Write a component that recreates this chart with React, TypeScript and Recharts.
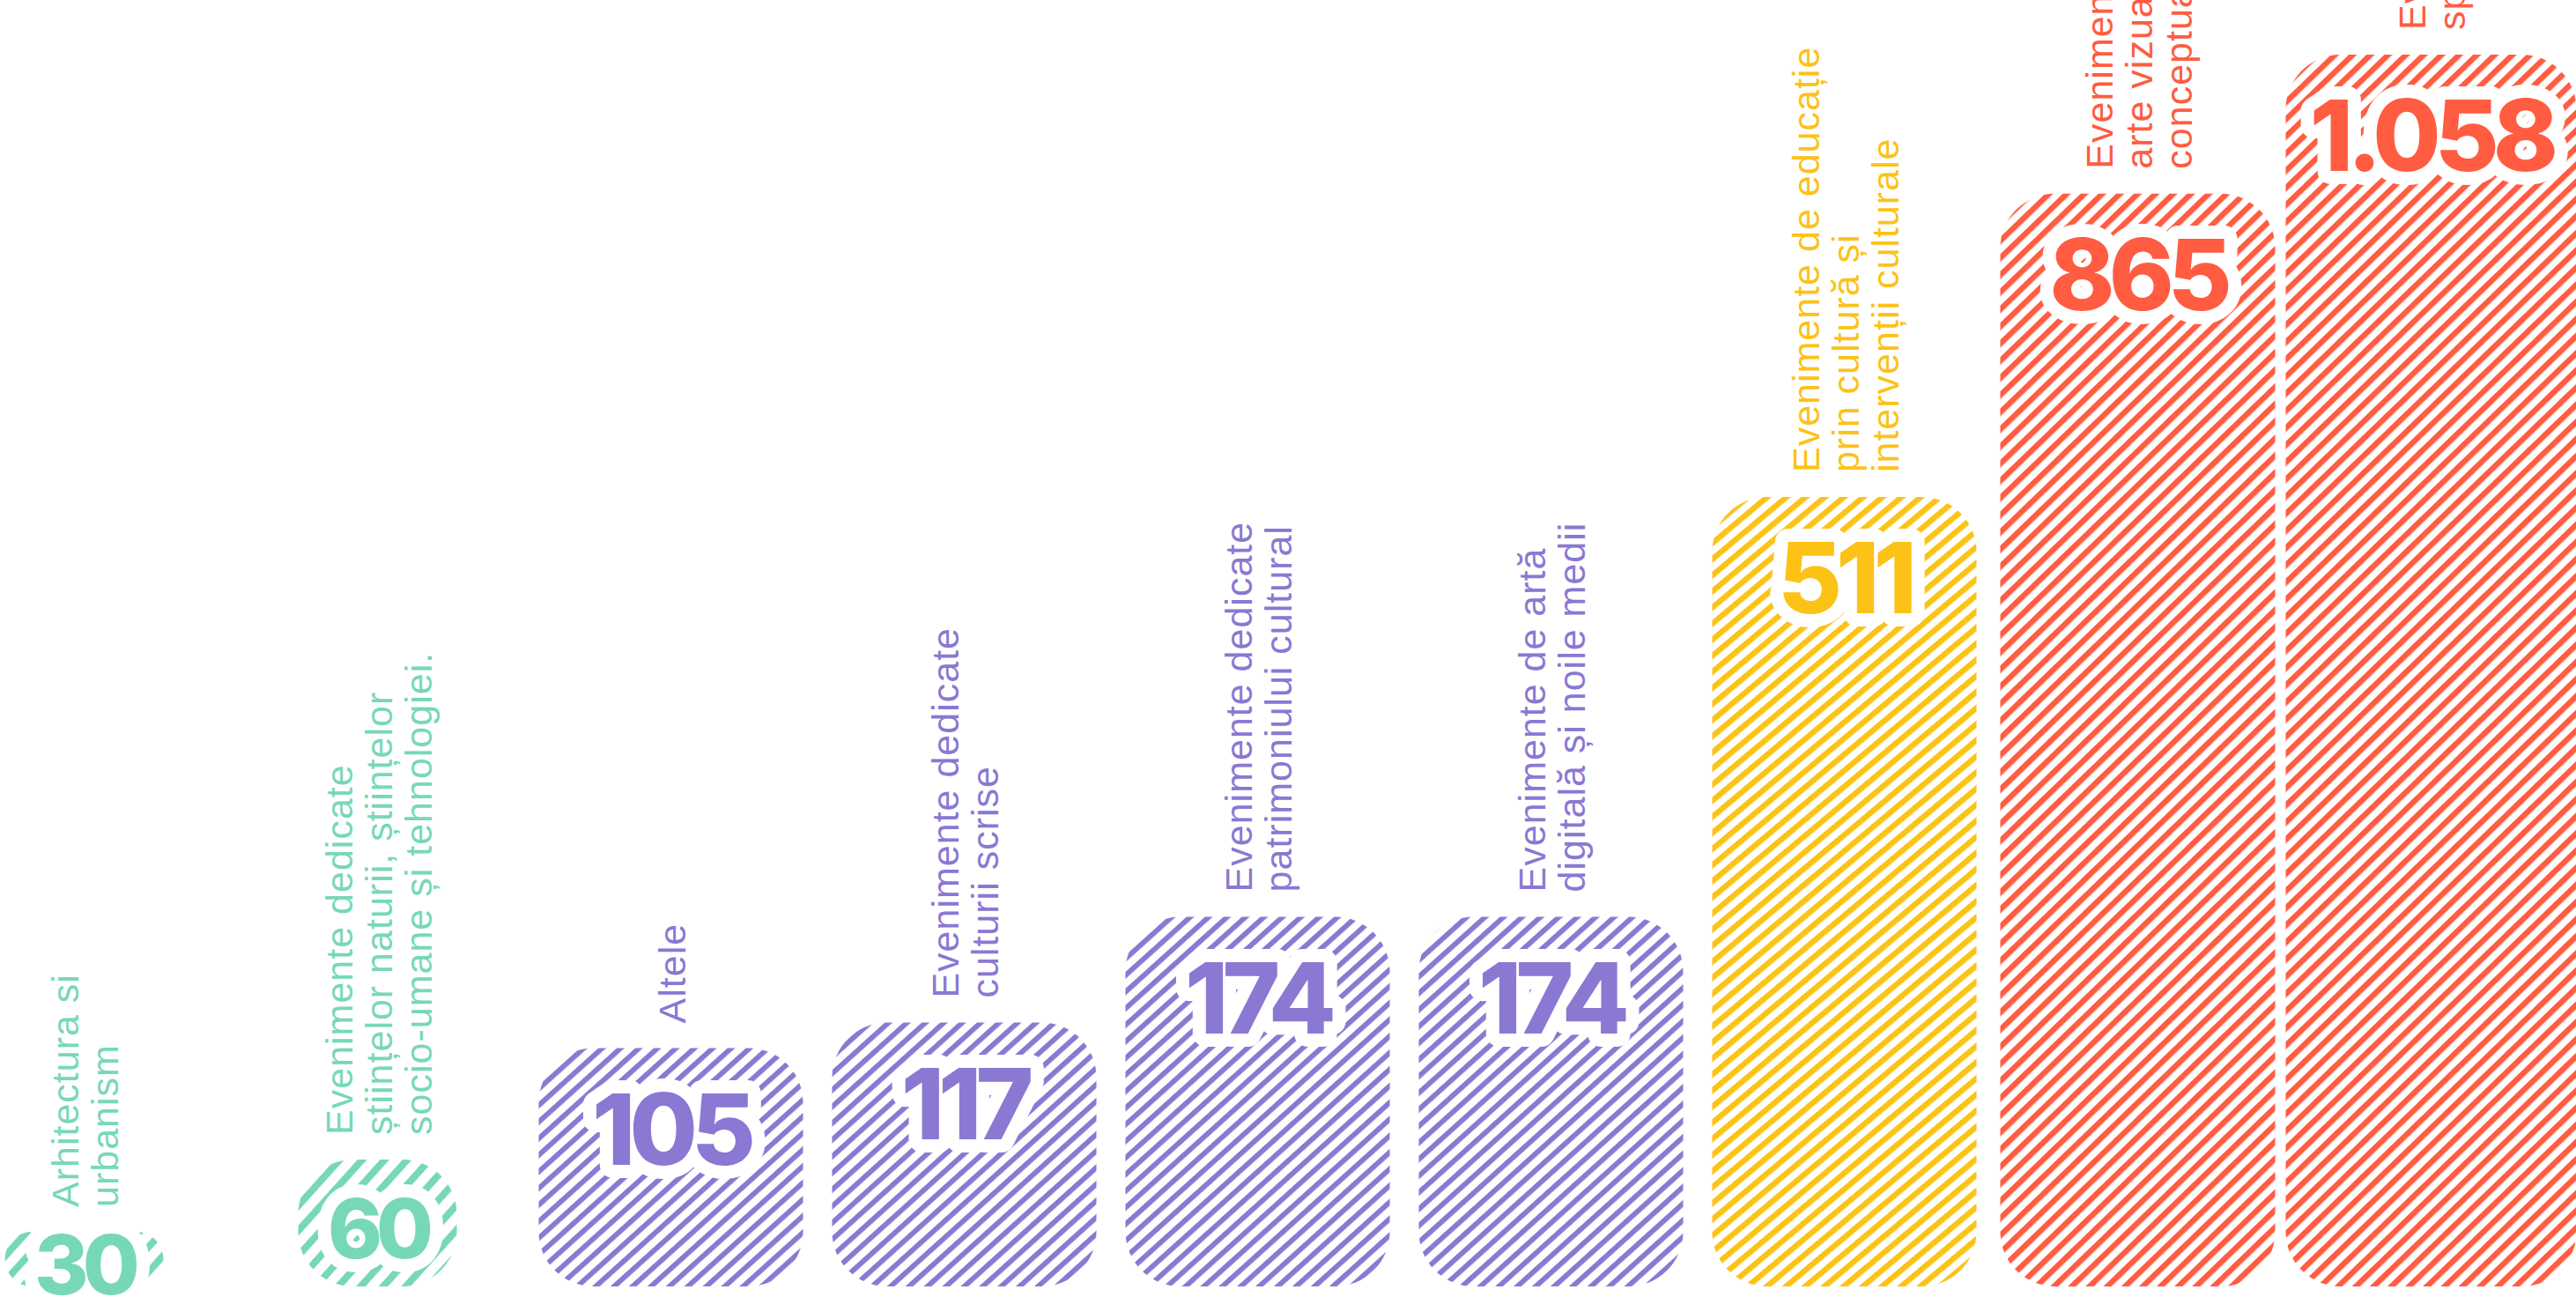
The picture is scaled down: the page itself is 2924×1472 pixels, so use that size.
import React from 'react'
import { BarChart, Bar, XAxis, YAxis, LabelList } from 'recharts'

// categories, read top-down off the rotated labels ("\n" = line break)
const categories = [
  'Arhitectura si\nurbanism',
  'Evenimente dedicate\nștiințelor naturii, științelor\nsocio-umane și tehnologiei.',
  'Altele',
  'Evenimente dedicate\nculturii scrise',
  'Evenimente dedicate\npatrimoniului cultural',
  'Evenimente de artă\ndigitală și noile medii',
  'Evenimente de educație\nprin cultură și\nintervenții culturale',
  'Evenimente de\narte vizuale și artă\nconceptuală',
  'Evenimente de arte\nspectacolului',
]

const eventCounts = [30, 60, 105, 117, 174, 174, 511, 865, 1058]

const GREEN = '#77d8b7'
const PURPLE = '#8a78d3'
const YELLOW = '#fcc216'
const RED = '#ff5c41'

const barColors = [GREEN, GREEN, PURPLE, PURPLE, PURPLE, PURPLE, YELLOW, RED, RED]
const barWidthFactors = [0.6, 0.6, 1, 1, 1, 1, 1, 1.04, 1.1]

const hatchStyles: Record<string, { period: number; angle: number; ratio: number }> = {
  [GREEN]: { period: 19, angle: 42, ratio: 0.42 },
  [PURPLE]: { period: 14, angle: 48, ratio: 0.42 },
  [YELLOW]: { period: 14, angle: 50, ratio: 0.46 },
  [RED]: { period: 14, angle: 46, ratio: 0.46 },
}

const data = categories.map((name, i) => ({ name, value: eventCounts[i] }))

const formatCount = (v: number) => String(v).replace(/\B(?=(\d{3})+(?!\d))/g, '.')

function HatchedBar(props: any) {
  const { x, y, width, height, index } = props
  if (!height || height <= 0) return null
  const color = barColors[index]
  const hatch = hatchStyles[color]
  const w = width * barWidthFactors[index]
  const left = x + (width - w) / 2
  const r = Math.min(62, w / 2, height / 2)
  const id = `hatch-${index}`
  return (
    <g>
      <defs>
        <pattern
          id={id}
          width={hatch.period}
          height={hatch.period}
          patternUnits="userSpaceOnUse"
          patternTransform={`rotate(${hatch.angle})`}
        >
          <rect width={hatch.period * hatch.ratio} height={hatch.period} fill={color} />
        </pattern>
      </defs>
      <rect x={left} y={y} width={w} height={height} rx={r} ry={r} fill={`url(#${id})`} />
    </g>
  )
}

const getBox = (props: any) => {
  const vb = props.viewBox && props.viewBox.width != null ? props.viewBox : props
  return { x: Number(vb.x), y: Number(vb.y), width: Number(vb.width), height: Number(vb.height) }
}

function CategoryLabel(props: any) {
  const { index, value } = props
  const { x, y, width } = getBox(props)
  const lines = String(value).split('\n')
  const cx = x + width / 2
  const lh = 45
  return (
    <text
      transform={`translate(${cx}, ${y - 28}) rotate(-90)`}
      fill={barColors[index]}
      fontFamily="'Liberation Sans', Arial, sans-serif"
      fontSize={43}
      letterSpacing={1}
    >
      {lines.map((line, i) => (
        <tspan key={i} x={0} y={16 + (i - (lines.length - 1) / 2) * lh}>
          {line}
        </tspan>
      ))}
    </text>
  )
}

function ValueLabel(props: any) {
  const { index, value } = props
  const { x, y, width, height } = getBox(props)
  const small = height < 160
  const fs = small ? 94 : 112
  const cx = x + width / 2
  const center = Math.min(y + 92, y + height / 2 + 6)
  return (
    <text
      x={cx}
      y={center + fs * 0.36}
      textAnchor="middle"
      fill={barColors[index]}
      stroke="#ffffff"
      strokeWidth={30}
      strokeLinejoin="round"
      paintOrder="stroke"
      fontFamily="Inter, 'Liberation Sans', sans-serif"
      fontWeight={800}
      fontSize={fs}
      letterSpacing={-7}
    >
      {formatCount(Number(value))}
    </text>
  )
}

export default function App() {
  return (
    <div
      style={{
        position: 'fixed',
        left: 0,
        top: 0,
        width: 2924,
        height: 1472,
        overflow: 'hidden',
        background: '#ffffff',
      }}
    >
      <div style={{ position: 'absolute', left: -71.5, top: 0 }}>
        <BarChart
          width={2997}
          height={1472}
          data={data}
          margin={{ top: 62, right: 0, bottom: 12, left: 0 }}
          barCategoryGap={16.5}
        >
          <XAxis dataKey="name" hide />
          <YAxis hide type="number" scale="sqrt" domain={[24, 1058]} />
          <Bar dataKey="value" shape={HatchedBar} minPointSize={62} isAnimationActive={false}>
            <LabelList dataKey="name" content={CategoryLabel} />
            <LabelList dataKey="value" content={ValueLabel} />
          </Bar>
        </BarChart>
      </div>
    </div>
  )
}
